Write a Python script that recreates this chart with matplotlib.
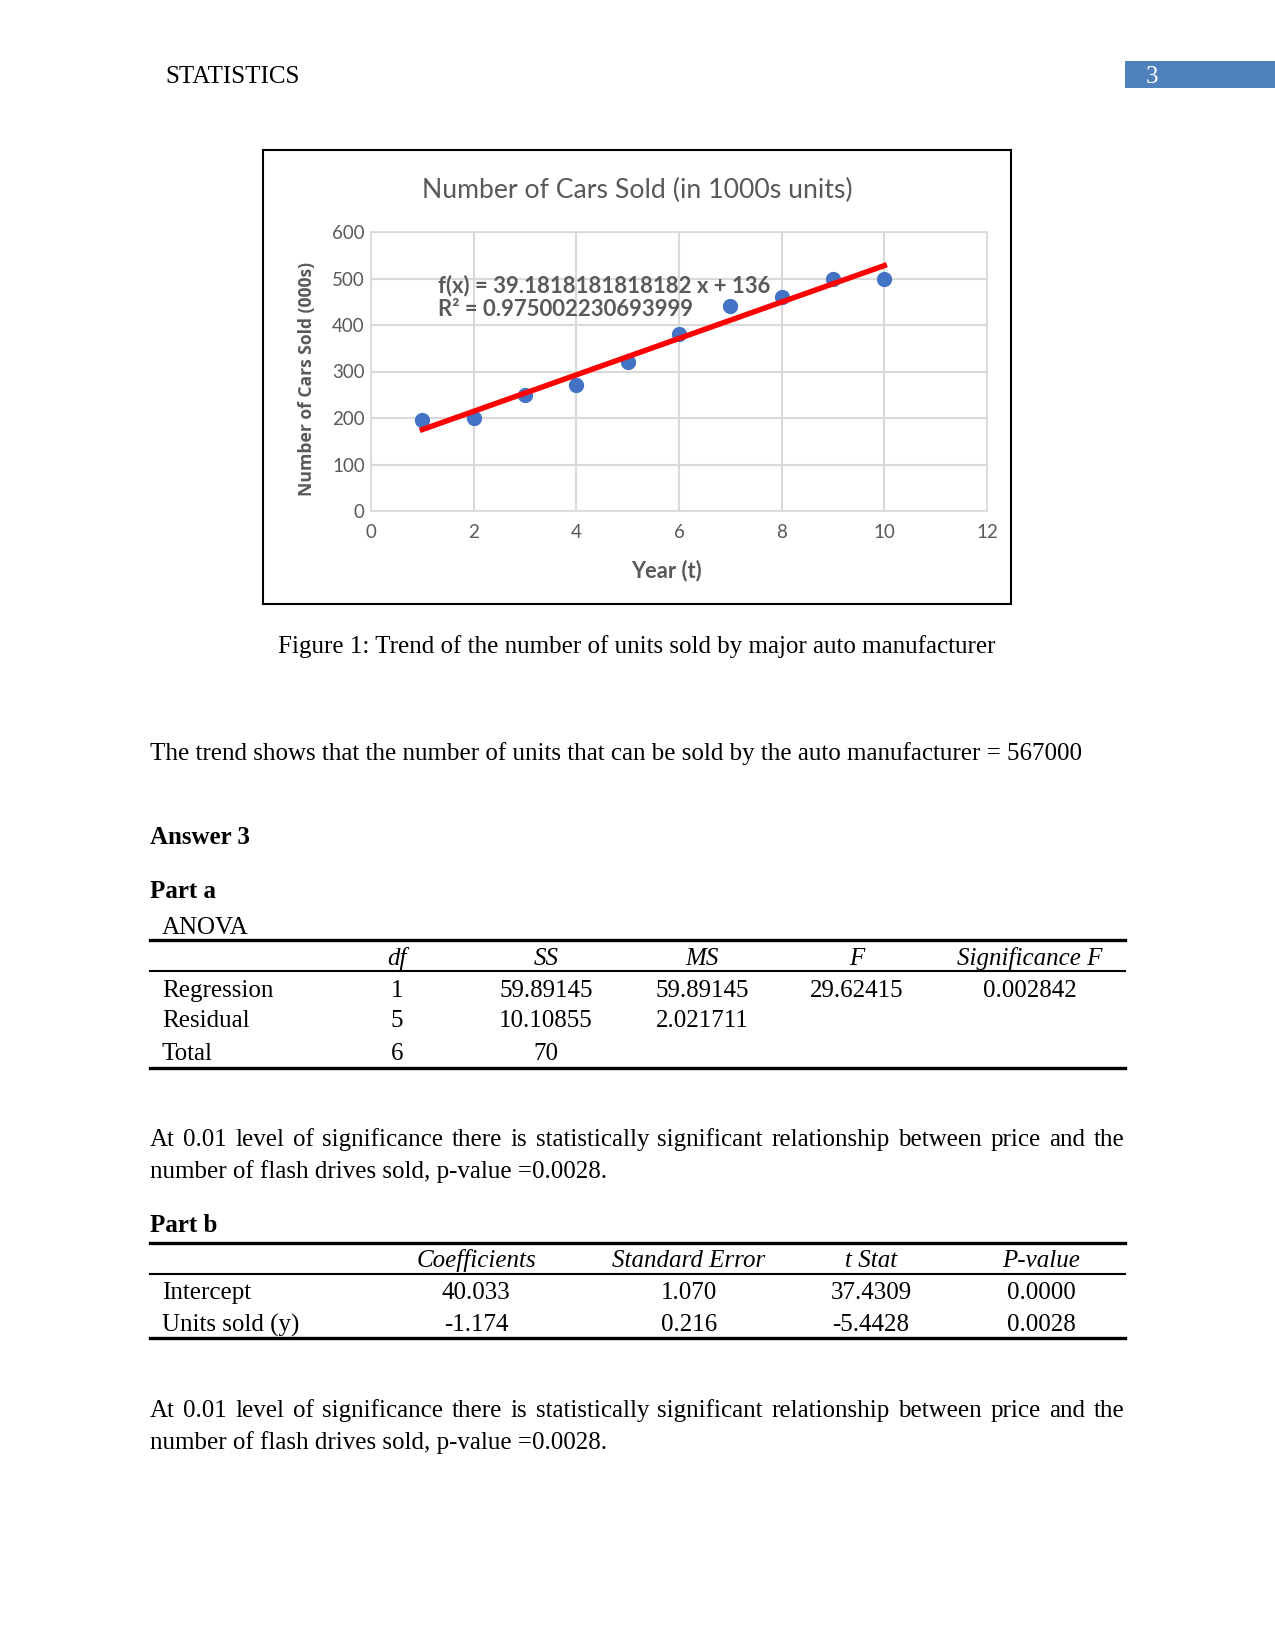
import matplotlib
matplotlib.use("Agg")
import matplotlib.pyplot as plt
from matplotlib.patches import Rectangle
import numpy as np

# chart data
years = [1, 2, 3, 4, 5, 6, 7, 8, 9, 10]
cars_sold = [195, 200, 250, 270, 320, 380, 440, 460, 500, 500]

# ANOVA table
anova_cols = ["df", "SS", "MS", "F", "Significance F"]
anova_rows = ["Regression", "Residual", "Total"]
anova_vals = [["1", "59.89145", "59.89145", "29.62415", "0.002842"],
              ["5", "10.10855", "2.021711", "", ""],
              ["6", "70", "", "", ""]]

# coefficients table
coef_cols = ["Coefficients", "Standard Error", "t Stat", "P-value"]
coef_rows = ["Intercept", "Units sold (y)"]
coef_vals = [["40.033", "1.070", "37.4309", "0.0000"],
             ["-1.174", "0.216", "-5.4428", "0.0028"]]

W, H = 1275, 1650
fig = plt.figure(figsize=(8.5, 11), dpi=150)
serif = "Liberation Serif"
gray = "#595959"


def px(x, y):
    return x / W, 1 - y / H


def txt(x, y, s, **kw):
    kw.setdefault("family", serif)
    kw.setdefault("fontsize", 12)
    kw.setdefault("va", "center")
    return fig.text(*px(x, y + 2), s, **kw)


def justified(y, line, x0=150, x1=1124):
    words = line.split()
    ts = [txt(x0, y, w) for w in words]
    r = fig.canvas.get_renderer()
    widths = [t.get_window_extent(r).width for t in ts]
    gap = (x1 - x0 - sum(widths)) / (len(words) - 1)
    x = x0
    for t, w in zip(ts, widths):
        t.set_x(x / W)
        x += w + gap


# header
txt(165, 75, "STATISTICS", fontsize=12)
fig.patches.append(Rectangle(px(1125, 88), 150 / W, 27 / H, transform=fig.transFigure,
                             facecolor="#4F81BD", edgecolor="none"))
txt(1146, 75, "3", color="white")

# chart frame
fig.patches.append(Rectangle(px(263, 604), 748 / W, 454 / H, transform=fig.transFigure,
                             facecolor="none", edgecolor="black", lw=1))

ax = fig.add_axes([371 / W, 1 - 511 / H, 616 / W, 279 / H])
ax.scatter(years, cars_sold, s=40, color="#4472C4", zorder=3)
k, b = np.polyfit(years, cars_sold, 1)
xs = np.array([min(years), max(years)])
ax.plot(xs, k * xs + b, color="#FF0000", lw=2.6, zorder=4)
ax.set_xlim(0, 12)
ax.set_ylim(0, 600)
ax.set_xticks(range(0, 13, 2))
ax.set_yticks(range(0, 601, 100))
ax.grid(True, color="#D9D9D9", lw=1)
ax.set_axisbelow(True)
for sp in ax.spines.values():
    sp.set_color("#D9D9D9")
ax.tick_params(length=0, labelsize=9, labelcolor=gray, pad=3, labelfontfamily="Lato")
ax.tick_params(axis="x", pad=6)
ax.set_xlabel("Year (t)", family="Lato", fontsize=10.5, fontweight="bold", color=gray)
ax.xaxis.set_label_coords(0.479, -0.175)
ax.set_ylabel("Number of Cars Sold (000s)", family="Open Sans", fontsize=8.4, fontweight="bold",
              color=gray)
ax.yaxis.set_label_coords(-0.09, 0.475)
fig.text(*px(637, 190), "Number of Cars Sold (in 1000s units)", family="Lato", fontsize=12.8,
         color=gray, ha="center", va="center")
ax.text(1.3, 484, "f(x) = 39.1818181818182 x + 136", family="Lato",
        fontsize=10.6, fontweight="bold", color=gray, va="center", zorder=5)
ax.text(1.3, 433, "R² = 0.975002230693999", family="Lato",
        fontsize=10.6, fontweight="bold", color=gray, va="center", zorder=5)

# caption and body
txt(637, 645, "Figure 1: Trend of the number of units sold by major auto manufacturer", ha="center")
txt(150, 752, "The trend shows that the number of units that can be sold by the auto manufacturer = 567000")
txt(150, 835, "Answer 3", fontweight="bold")
txt(150, 889, "Part a", fontweight="bold")

# ANOVA table
txt(162, 926, "ANOVA")
tx0, tx1 = 150 / W, 1125 / W
for y, lw in [(940, 1.6), (971, 1), (1068, 1.6)]:
    fig.add_artist(plt.Line2D([tx0, tx1], [1 - y / H] * 2, color="black", lw=lw))
acx = [397, 546, 702, 857, 1030]
for c, name in zip(acx, anova_cols):
    txt(c, 957, name, ha="center", style="italic")
for y, name, vals in zip([989, 1019, 1052], anova_rows, anova_vals):
    txt(162, y, name)
    for c, v in zip(acx, vals):
        if v:
            txt(c, y, v, ha="center")

para = ["At 0.01 level of significance there is statistically significant relationship between price and the",
        "number of flash drives sold, p-value =0.0028."]
justified(1138, para[0])
txt(150, 1170, para[1])

txt(150, 1223, "Part b", fontweight="bold")
for y, lw in [(1243, 1.6), (1274, 1), (1338, 1.6)]:
    fig.add_artist(plt.Line2D([tx0, tx1], [1 - y / H] * 2, color="black", lw=lw))
ccx = [476, 689, 871, 1041]
for c, name in zip(ccx, coef_cols):
    txt(c, 1259, name, ha="center", style="italic")
for y, name, vals in zip([1291, 1323], coef_rows, coef_vals):
    txt(162, y, name)
    for c, v in zip(ccx, vals):
        txt(c, y, v, ha="center")

justified(1409, para[0])
txt(150, 1441, para[1])

fig.savefig("out.png", dpi=150, facecolor="white")
